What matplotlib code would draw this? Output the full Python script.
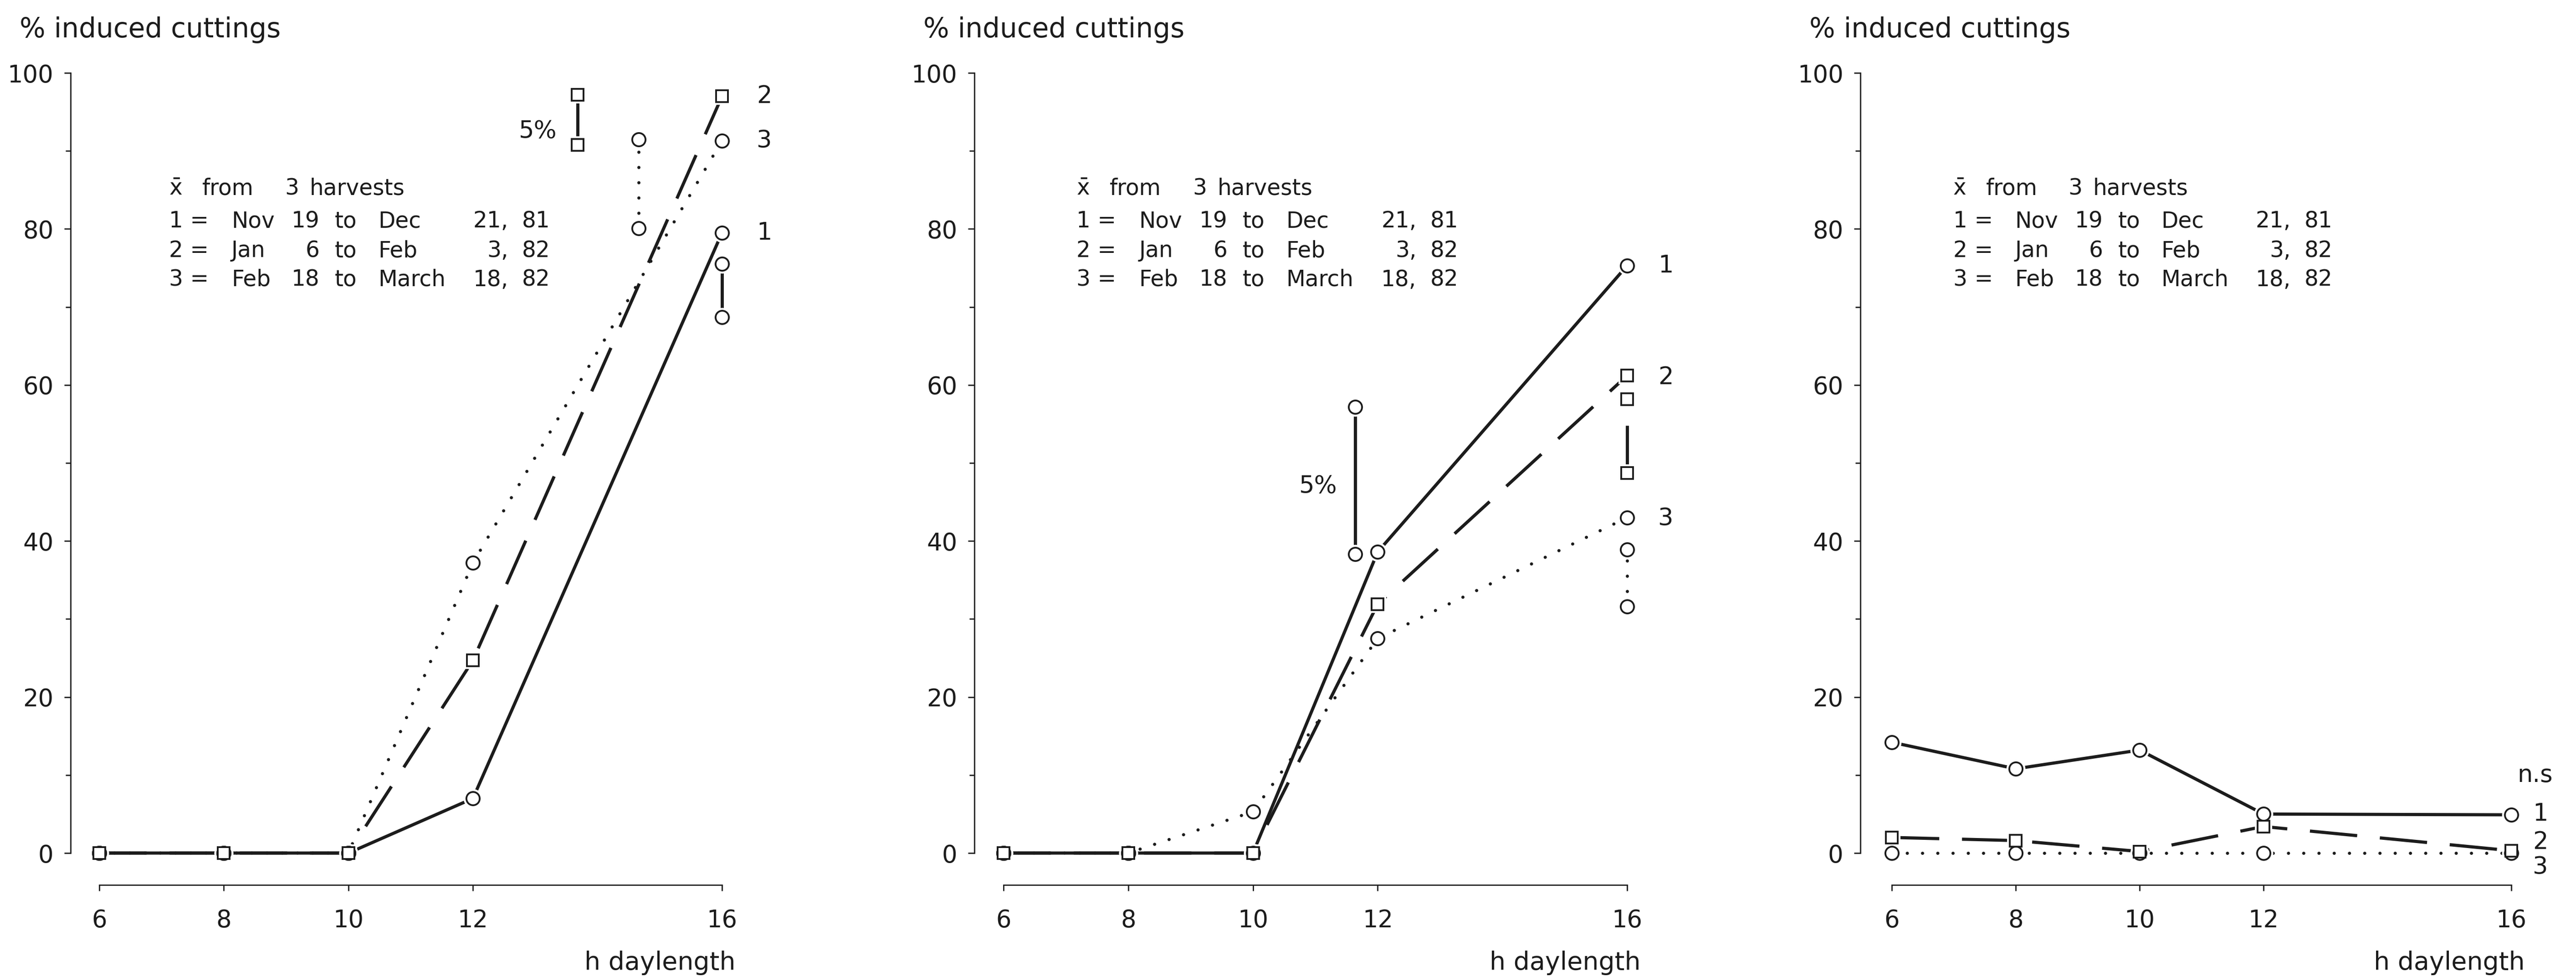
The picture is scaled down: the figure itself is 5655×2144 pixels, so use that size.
import matplotlib
matplotlib.use("Agg")
import matplotlib.pyplot as plt
from matplotlib.ticker import MultipleLocator

plt.rcParams['font.family'] = ['DejaVu Sans']
plt.rcParams['lines.scale_dashes'] = False

# ---------------- data ----------------
daylength = [6, 8, 10, 12, 16]
x_ticks = [6, 8, 10, 12, 16]

# panel A
a_s1 = [0, 0, 0, 7, 79.5]
a_s2 = [0, 0, 0, 24.7, 97]
a_s3 = [0, 0, 0, 37.2, 91.3]
a_lsd_x = [13.68, 14.66, 16]
a_lsd_lo = [90.8, 80.1, 68.7]
a_lsd_hi = [97.2, 91.5, 75.5]
a_lsd_series = [2, 3, 1]
a_lsd_label_xy = (13.35, 92.5)
a_end_labels_y = [79.5, 97, 91.3]

# panel B
b_s1 = [0, 0, 0, 38.6, 75.3]
b_s2 = [0, 0, 0, 31.9, 61.2]
b_s3 = [0, 0, 5.3, 27.5, 43.0]
b_lsd_x = [11.64, 16, 16]
b_lsd_lo = [38.3, 48.7, 31.6]
b_lsd_hi = [57.2, 58.2, 38.9]
b_lsd_series = [1, 2, 3]
b_lsd_label_xy = (11.35, 47.0)
b_end_labels_y = [75.3, 61.0, 42.9]

# panel C
c_s1 = [14.2, 10.8, 13.2, 5.0, 4.9]
c_s2 = [2.0, 1.6, 0.2, 3.4, 0.3]
c_s3 = [0, 0, 0, 0, 0]
c_ns_label = "n.s"
c_end_labels_y = [5.0, 1.4, -1.8]

legend_head = ["x\u0304", "from", "3", "harvests"]
legend_num = ["1 =", "2 =", "3 ="]
legend_m1 = ["Nov", "Jan", "Feb"]
legend_d1 = ["19", "6", "18"]
legend_m2 = ["Dec", "Feb", "March"]
legend_d2 = ["21,", "3,", "18,"]
legend_yr = ["81", "82", "82"]

# ---------------- layout ----------------
W, H = 5655, 2144
DPI = 100
fig = plt.figure(figsize=(W / DPI, H / DPI), dpi=DPI)
fig.patch.set_facecolor('white')
INK = '#1c1c1c'

Y0PX, Y100PX = 1872, 160
PPY = (Y0PX - Y100PX) / 100.0
YLO, YHI = -6, 105

panels = [
    dict(yax=155, x6=218, x16=1585, s=(a_s1, a_s2, a_s3), lsd=(a_lsd_x, a_lsd_lo, a_lsd_hi, a_lsd_series),
         lsd_lab=a_lsd_label_xy, endy=a_end_labels_y, endx=16.68, leg_x=7.12),
    dict(yax=2139, x6=2203, x16=3572, s=(b_s1, b_s2, b_s3), lsd=(b_lsd_x, b_lsd_lo, b_lsd_hi, b_lsd_series),
         lsd_lab=b_lsd_label_xy, endy=b_end_labels_y, endx=16.62, leg_x=7.17),
    dict(yax=4084, x6=4153, x16=5513, s=(c_s1, c_s2, c_s3), lsd=None,
         lsd_lab=None, endy=c_end_labels_y, endx=16.47, leg_x=6.99),
]

LW = 5.0
styles = {
    1: dict(lw=LW, marker='o', dashes=None),
    2: dict(lw=LW, marker='s', dashes=(75, 36)),
    3: dict(lw=5.0, marker='o', dashes=(0.1, 24)),
}
MS = {'o': 21, 's': 19}


def draw_series(ax, x, y, sid, z=2):
    st = styles[sid]
    ln, = ax.plot(x, y, color=INK, lw=st['lw'], zorder=z, clip_on=False,
                  solid_capstyle='butt')
    if st['dashes'] is not None:
        ln.set_dashes(st['dashes'])
        ln.set_dash_capstyle('round' if sid == 3 else 'butt')
    m = st['marker']
    ax.plot(x, y, ls='none', marker=m, ms=MS[m] + 9, mfc='white', mec='white',
            mew=0, zorder=z + 2, clip_on=False)
    ax.plot(x, y, ls='none', marker=m, ms=MS[m], mfc='white', mec=INK,
            mew=2.8, zorder=z + 3 + (1 if sid == 2 else 0), clip_on=False)


FS_TICK = 38
FS_TEXT = 38
FS_LEG = 35

for p in panels:
    ppx = (p['x16'] - p['x6']) / 10.0
    right_px = p['x16'] + 140
    xl = 6 - (p['x6'] - p['yax']) / ppx
    xr = 16 + (right_px - p['x16']) / ppx
    bot_px = Y0PX - YLO * PPY
    top_px = Y0PX - YHI * PPY
    ax = fig.add_axes([p['yax'] / W, (H - bot_px) / H, (right_px - p['yax']) / W, (bot_px - top_px) / H])
    ax.set_xlim(xl, xr)
    ax.set_ylim(YLO, YHI)
    ax.patch.set_alpha(0)
    for sp in ['top', 'right']:
        ax.spines[sp].set_visible(False)
    ax.spines['left'].set_bounds(0, 100)
    ax.spines['bottom'].set_bounds(6, 16)
    ax.spines['bottom'].set_position(('data', -4.1))
    for sp in ['left', 'bottom']:
        ax.spines[sp].set_linewidth(2.0)
        ax.spines[sp].set_color(INK)
    ax.set_yticks([0, 20, 40, 60, 80, 100])
    ax.yaxis.set_minor_locator(MultipleLocator(10))
    ax.set_xticks(x_ticks)
    ax.set_xticklabels([str(v) for v in x_ticks])
    ax.tick_params(axis='y', which='major', direction='out', length=10, width=2.0, pad=17,
                   labelsize=FS_TICK, colors=INK)
    ax.tick_params(axis='y', which='minor', direction='out', length=8, width=2.0, colors=INK)
    ax.tick_params(axis='x', which='major', direction='out', length=9, width=2.0, pad=28,
                   labelsize=FS_TICK, colors=INK)

    s1, s2, s3 = p['s']
    draw_series(ax, daylength, s3, 3, z=2)
    draw_series(ax, daylength, s1, 1, z=2)
    draw_series(ax, daylength, s2, 2, z=2)

    if p['lsd'] is not None:
        lx, llo, lhi, lser = p['lsd']
        for xv, lo, hi, sid in zip(lx, llo, lhi, lser):
            draw_series(ax, [xv, xv], [lo, hi], sid, z=2)
        ax.text(p['lsd_lab'][0], p['lsd_lab'][1], "5%", ha='right', va='center',
                fontsize=FS_TEXT, color=INK)
    else:
        ax.text(16.1, 10.0, c_ns_label, ha='left', va='center', fontsize=FS_TEXT, color=INK)

    for lab, yv in zip(["1", "2", "3"], p['endy']):
        ax.text(p['endx'], yv, lab, ha='center', va='center', fontsize=FS_TEXT, color=INK)

    # legend block
    x0 = p['leg_x']
    yrows = [85.2, 81.0, 77.2, 73.5]
    offs = [0, 0.53, 1.86, 2.26]
    for t, o in zip(legend_head, offs):
        ax.text(x0 + o, yrows[0], t, ha='left', va='center', fontsize=FS_LEG, color=INK)
    for i in range(3):
        yv = yrows[i + 1]
        ax.text(x0, yv, legend_num[i], ha='left', va='center', fontsize=FS_LEG, color=INK)
        ax.text(x0 + 1.0, yv, legend_m1[i], ha='left', va='center', fontsize=FS_LEG, color=INK)
        ax.text(x0 + 2.42, yv, legend_d1[i], ha='right', va='center', fontsize=FS_LEG, color=INK)
        ax.text(x0 + 2.66, yv, "to", ha='left', va='center', fontsize=FS_LEG, color=INK)
        ax.text(x0 + 3.36, yv, legend_m2[i], ha='left', va='center', fontsize=FS_LEG, color=INK)
        ax.text(x0 + 5.45, yv, legend_d2[i], ha='right', va='center', fontsize=FS_LEG, color=INK)
        ax.text(x0 + 5.67, yv, legend_yr[i], ha='left', va='center', fontsize=FS_LEG, color=INK)

    # axis titles
    fig.text((p['yax'] - 112) / W, (H - 82) / H, "% induced cuttings", ha='left', va='baseline',
             fontsize=43, color=INK)
    ax.text(16 + 30 / ppx, -(2128 - Y0PX) / PPY, "h daylength", ha='right', va='baseline',
            fontsize=40, color=INK, clip_on=False)

fig.savefig("out.png", dpi=DPI, facecolor='white')
